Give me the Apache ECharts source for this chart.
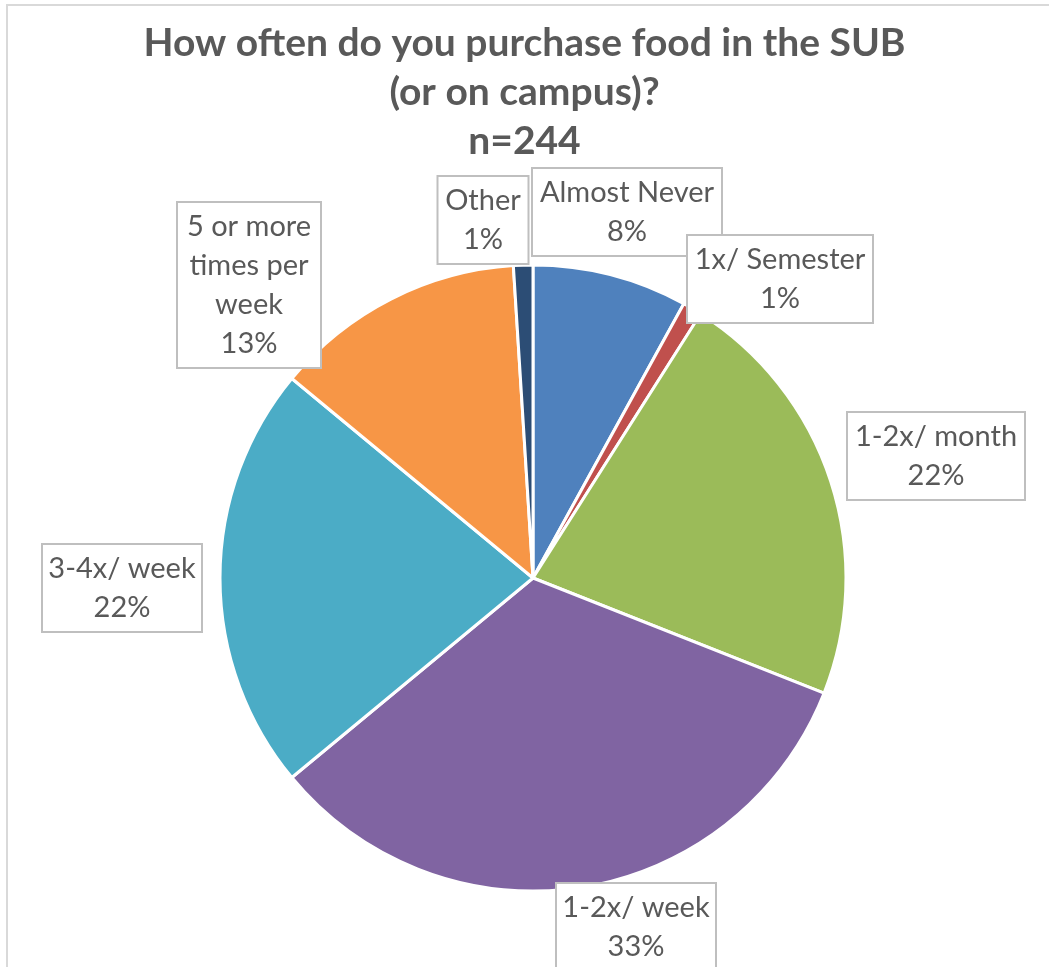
<!DOCTYPE html>
<html>
<head>
<meta charset="utf-8">
<script src="https://cdn.jsdelivr.net/npm/echarts@6/dist/echarts.min.js"></script>
<style>
  html, body { margin: 0; padding: 0; background: #ffffff; }
  #chart { width: 1049px; height: 967px; }
</style>
</head>
<body>
<div id="chart"></div>
<script>
// Survey answers, in clockwise order from 12 o'clock
const categories = [
  'Almost Never',
  '1x/ Semester',
  '1-2x/ month',
  '1-2x/ week',
  '3-4x/ week',
  '5 or more\ntimes per\nweek',
  'Other'
];
// Share of respondents (%)
const shares = [8, 1, 22, 33, 22, 13, 1];
const sliceColors = ['#4F81BD', '#C0504D', '#9BBB59', '#8064A2', '#4BACC6', '#F79646', '#2C4D75'];
const titleLines = ['How often do you purchase food in the SUB', '(or on campus)?', 'n=244'];

// Callout placement (box centre) and box content width for each slice label
const calloutPos = [
  [627, 212], [780, 279], [936, 456], [636, 927], [122, 588], [249, 285], [483, 220]
];
const calloutWidth = [174, 170, 162, 144, 144, 128, 75];

const FONT = 'Lato, "Open Sans", sans-serif';

const chart = echarts.init(document.getElementById('chart'), null, { renderer: 'canvas' });

chart.setOption({
  backgroundColor: '#ffffff',
  animation: false,
  title: {
    text: titleLines.join('\n'),
    left: 'center',
    top: 14,
    textStyle: {
      fontFamily: FONT,
      fontSize: 39,
      fontWeight: 'bold',
      color: '#595959',
      lineHeight: 49
    }
  },
  graphic: [{
    type: 'rect',
    z: -1,
    shape: { x: 7, y: 5, width: 1200, height: 1200 },
    style: { fill: 'none', stroke: '#D9D9D9', lineWidth: 2 }
  }],
  series: [{
    type: 'pie',
    center: [533, 578],
    radius: 313,
    startAngle: 90,
    clockwise: true,
    avoidLabelOverlap: false,
    itemStyle: { borderColor: '#ffffff', borderWidth: 3 },
    label: {
      show: true,
      position: 'outside',
      fontFamily: FONT,
      fontSize: 29,
      lineHeight: 39,
      color: '#595959',
      align: 'center',
      overflow: 'none',
      backgroundColor: '#ffffff',
      borderColor: '#BFBFBF',
      borderWidth: 2,
      padding: [4, 7],
      formatter: p => p.name + '\n' + p.value + '%'
    },
    labelLine: { show: false },
    labelLayout: p => ({
      x: calloutPos[p.dataIndex][0],
      y: calloutPos[p.dataIndex][1],
      align: 'center',
      verticalAlign: 'middle'
    }),
    data: categories.map((name, i) => ({
      name,
      value: shares[i],
      itemStyle: { color: sliceColors[i] },
      label: { width: calloutWidth[i] }
    }))
  }]
});
</script>
</body>
</html>
